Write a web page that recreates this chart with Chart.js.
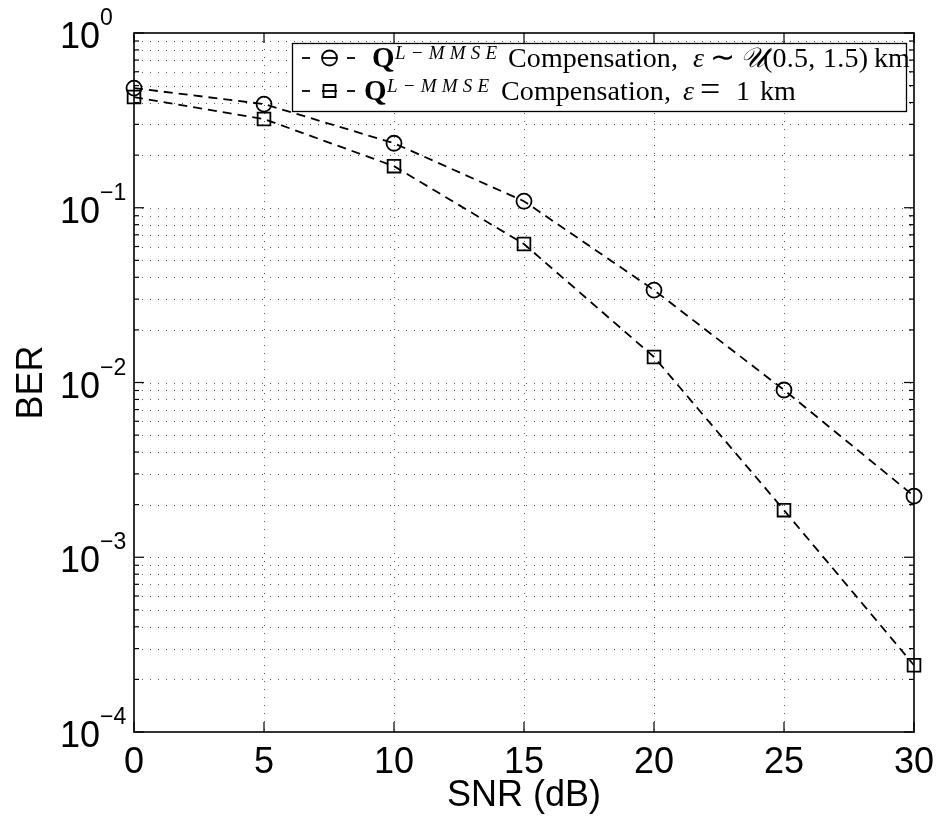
<!DOCTYPE html>
<html>
<head>
<meta charset="utf-8">
<script src="https://cdn.jsdelivr.net/npm/chart.js@4.4.0/dist/chart.umd.min.js"></script>
<style>
  html, body { margin: 0; padding: 0; background: #fff; }
  #wrap { width: 939px; height: 818px; }
</style>
</head>
<body>
<div id="wrap"><canvas id="berChart" width="939" height="818"></canvas></div>
<script>
// values
const snrDb = [0, 5, 10, 15, 20, 25, 30];
const berUniform = [0.484, 0.392, 0.234, 0.109, 0.0338, 0.00906, 0.00224];
const berFixed = [0.430, 0.322, 0.173, 0.062, 0.0140, 0.00186, 0.000241];

const xTicks = [0, 5, 10, 15, 20, 25, 30];
const yDecades = [1e-4, 1e-3, 1e-2, 1e-1, 1];
const yDecadeExp = ['\u22124', '\u22123', '\u22122', '\u22121', '0'];
const yMinorSteps = [2, 3, 4, 5, 6, 7, 8, 9];

const xTitle = 'SNR (dB)';
const yTitle = 'BER';

const sansFont = "'Liberation Sans', Arial, Helvetica, sans-serif";
const serifFont = "'Liberation Serif', 'Times New Roman', serif";

const toPoints = (ys) => snrDb.map((s, i) => ({ x: s, y: ys[i] }));

// all y values that get a dotted grid line / tick
const yMinor = [];
yDecades.slice(0, -1).forEach(d => yMinorSteps.forEach(m => yMinor.push(m * d)));

const hLine = (ctx, x1, x2, y) => { ctx.beginPath(); ctx.moveTo(x1, y); ctx.lineTo(x2, y); ctx.stroke(); };
const vLine = (ctx, x, y1, y2) => { ctx.beginPath(); ctx.moveTo(x, y1); ctx.lineTo(x, y2); ctx.stroke(); };

// draw text spread out to a given visible width
const fitText = (ctx, txt, x, y, width) => {
    const w = ctx.measureText(txt).width;
    ctx.letterSpacing = ((width - w) / (txt.length - 1)).toFixed(2) + 'px';
    ctx.fillText(txt, x, y);
    ctx.letterSpacing = '0px';
};

const figurePlugin = {
    id: 'figure',
    beforeDatasetsDraw(chart) {
        const { ctx, chartArea: a, scales: { x, y } } = chart;
        ctx.save();
        ctx.strokeStyle = '#5a5a5a';
        ctx.lineWidth = 1;
        ctx.setLineDash([1, 7]);
        xTicks.forEach(v => {
            if (v <= 0 || v >= 30) return;
            const px = Math.round(x.getPixelForValue(v)) + 0.5;
            vLine(ctx, px, a.top, a.bottom);
        });
        yDecades.concat(yMinor).forEach(v => {
            if (v <= 1e-4 || v >= 1) return;
            const py = Math.round(y.getPixelForValue(v)) + 0.5;
            hLine(ctx, a.left, a.right, py);
        });
        ctx.restore();
    },
    afterDatasetsDraw(chart) {
        const { ctx, chartArea: a, scales: { x, y } } = chart;
        ctx.save();
        ctx.strokeStyle = '#000';
        ctx.fillStyle = '#000';
        ctx.lineWidth = 1.6;

        // axes box
        ctx.strokeRect(a.left, a.top, a.right - a.left, a.bottom - a.top);

        // inward tick marks
        ctx.lineWidth = 1.2;
        xTicks.forEach(v => {
            const px = x.getPixelForValue(v);
            vLine(ctx, px, a.bottom, a.bottom - 10);
            vLine(ctx, px, a.top, a.top + 10);
        });
        yDecades.forEach(v => {
            const py = y.getPixelForValue(v);
            hLine(ctx, a.left, a.left + 10, py);
            hLine(ctx, a.right, a.right - 10, py);
        });
        yMinor.forEach(v => {
            const py = y.getPixelForValue(v);
            hLine(ctx, a.left, a.left + 5, py);
            hLine(ctx, a.right, a.right - 5, py);
        });

        // x tick labels
        ctx.font = '36px ' + sansFont;
        ctx.textAlign = 'center';
        ctx.textBaseline = 'alphabetic';
        xTicks.forEach(v => ctx.fillText(String(v), x.getPixelForValue(v), 773));
        ctx.fillText(xTitle, (a.left + a.right) / 2, 806);

        // y tick labels 10^n
        yDecades.forEach((v, i) => {
            const py = y.getPixelForValue(v);
            ctx.font = '36px ' + sansFont;
            ctx.textAlign = 'right';
            ctx.fillText('10', 100, py + 15);
            ctx.font = '23px ' + sansFont;
            ctx.textAlign = 'left';
            ctx.fillText(yDecadeExp[i], 100, py - 8);
        });

        // y title
        ctx.save();
        ctx.translate(42, (a.top + a.bottom) / 2);
        ctx.rotate(-Math.PI / 2);
        ctx.font = '36px ' + sansFont;
        ctx.textAlign = 'center';
        ctx.fillText(yTitle, 0, 0);
        ctx.restore();

        // legend
        ctx.fillStyle = '#fff';
        ctx.fillRect(292, 43, 614, 68);
        ctx.lineWidth = 1.3;
        ctx.strokeStyle = '#000';
        ctx.strokeRect(292.5, 43.5, 614, 68);
        ctx.fillStyle = '#000';

        const rows = [
            { cy: 58, base: 67, marker: 'circle', qx: 372, supx: 395, compx: 508 },
            { cy: 91, base: 100, marker: 'rect', qx: 364, supx: 387, compx: 501 }
        ];
        rows.forEach(r => {
            ctx.lineWidth = 1.8;
            hLine(ctx, 302, 310, r.cy);
            hLine(ctx, 322, 337, r.cy);
            hLine(ctx, 347, 355, r.cy);
            ctx.beginPath();
            if (r.marker === 'circle') ctx.arc(329.5, r.cy, 7.5, 0, Math.PI * 2);
            else ctx.rect(323.5, r.cy - 6, 12, 12);
            ctx.stroke();

            ctx.textAlign = 'left';
            ctx.font = 'bold 29px ' + serifFont;
            ctx.fillText('Q', r.qx, r.base);
            ctx.font = 'italic 19px ' + serifFont;
            fitText(ctx, 'L\u2212MMSE', r.supx, r.base - 8, 102);
            ctx.font = '28px ' + serifFont;
            fitText(ctx, 'Compensation,', r.compx, r.base, 170);
        });

        // row 1 tail: ε ~ U(0.5, 1.5) km
        ctx.font = 'italic 28px ' + serifFont;
        ctx.fillText('\u03b5', 693, 67);
        ctx.font = '30px ' + serifFont;
        ctx.fillText('\u223c', 710, 67);
        ctx.font = 'italic 28px ' + serifFont;
        ctx.fillText('\ud835\udcb0', 740, 67);
        ctx.font = '28px ' + serifFont;
        fitText(ctx, '(0.5, 1.5)', 763, 67, 105);
        ctx.fillText('km', 874, 67);

        // row 2 tail: ε = 1 km
        ctx.font = 'italic 28px ' + serifFont;
        ctx.fillText('\u03b5', 683, 100);
        ctx.font = '36px ' + serifFont;
        ctx.fillText('=', 700, 101);
        ctx.font = '28px ' + serifFont;
        ctx.fillText('1', 736, 100);
        ctx.fillText('km', 760, 100);

        ctx.restore();
    }
};

const ctx = document.getElementById('berChart').getContext('2d');
new Chart(ctx, {
    type: 'line',
    data: {
        datasets: [{
            label: 'Q^{L-MMSE} Compensation, \u03b5 ~ U(0.5, 1.5) km',
            data: toPoints(berUniform),
            borderColor: '#000',
            backgroundColor: 'rgba(0,0,0,0)',
            borderWidth: 1.8,
            borderDash: [9, 6],
            pointStyle: 'circle',
            pointRadius: 7.5,
            pointBorderWidth: 1.8,
            pointBorderColor: '#000',
            pointBackgroundColor: 'rgba(0,0,0,0)',
            tension: 0,
            clip: false
        }, {
            label: 'Q^{L-MMSE} Compensation, \u03b5 = 1 km',
            data: toPoints(berFixed),
            borderColor: '#000',
            backgroundColor: 'rgba(0,0,0,0)',
            borderWidth: 1.8,
            borderDash: [9, 6],
            pointStyle: 'rect',
            pointRadius: 9,
            pointBorderWidth: 1.8,
            pointBorderColor: '#000',
            pointBackgroundColor: 'rgba(0,0,0,0)',
            tension: 0,
            clip: false
        }]
    },
    options: {
        responsive: false,
        animation: false,
        events: [],
        layout: {
            padding: { left: 134, right: 25, top: 33, bottom: 86 }
        },
        plugins: {
            legend: { display: false },
            tooltip: { enabled: false }
        },
        scales: {
            x: { type: 'linear', min: 0, max: 30, display: false },
            y: { type: 'logarithmic', min: 1e-4, max: 1, display: false }
        }
    },
    plugins: [figurePlugin]
});
</script>
</body>
</html>
